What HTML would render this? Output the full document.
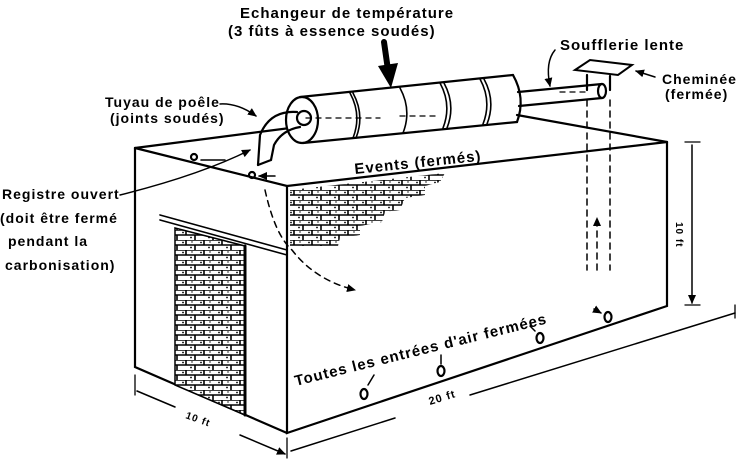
<!DOCTYPE html>
<html><head><meta charset="utf-8"><style>
html,body{margin:0;padding:0;background:#fff;width:751px;height:460px;overflow:hidden}
text{font-family:"Liberation Sans",sans-serif;fill:#000;font-weight:bold;letter-spacing:1px}
</style></head><body>
<svg width="751" height="460" viewBox="0 0 751 460" xmlns="http://www.w3.org/2000/svg">
<defs>
<pattern id="brick" width="18" height="10" patternUnits="userSpaceOnUse">
<rect width="18" height="10" fill="#fff"/>
<path d="M0 0H18M0 5H18M6 0V5M15 5V10" stroke="#000" stroke-width="1.6"/>
<circle cx="3" cy="2.5" r="0.9"/><circle cx="11" cy="7.5" r="0.9"/><circle cx="12" cy="2" r="0.7"/>
</pattern>
<marker id="ar" markerUnits="userSpaceOnUse" markerWidth="10" markerHeight="10" refX="8" refY="4" orient="auto"><path d="M0 0L9 4L0 8z"/></marker>
</defs>
<g stroke="#000" stroke-width="2.2" fill="none" stroke-linecap="round">
<path d="M135 148L287 186L667 142"/>
<path d="M135 148L290 128"/>
<path d="M517 115L667 142"/>
<path d="M287 186V433L667 306V142"/>
<path d="M135 148V367L287 433"/>
<path d="M160 215L287 250M160 220L287 255" stroke-width="1.6"/>
<polygon points="175,228 245,246 245,415 175,385" fill="url(#brick)" stroke-width="1.5"/>
<line x1="245" y1="246" x2="245" y2="415" stroke-width="3"/>
<polygon points="290,190 445,173 440,182 425,186 425,195 405,198 400,210 385,212 382,222 360,226 360,235 340,238 338,246 290,246" fill="url(#brick)" stroke="none"/>
<path d="M300 97L513 75M303 143L517 122"/>
<ellipse cx="302" cy="120" rx="16" ry="23" fill="#fff"/>
<ellipse cx="304" cy="118" rx="7" ry="7"/>
<path d="M513 75Q526 98 517 122"/>
<path d="M350 93q12 22 3 45M353 93q12 22 3 45M400 88q12 22 3 45M440 83q12 22 3 45M444 83q12 22 3 45M480 79q12 22 3 45M484 79q12 22 3 45" stroke-width="1.6"/>
<path d="M518 92L602 84M519 106L602 98"/>
<ellipse cx="602" cy="91" rx="4" ry="7" fill="#fff"/>
<path d="M297 112Q270 110 260 135L258 165M300 127Q282 130 274 145L271 160"/>
<path d="M258 165L271 160"/>
<polygon points="575,70 590,60 632,65 618,75" stroke-width="2"/>
<path d="M587 75V90M610 76V90"/>
<path d="M587 100V270M610 100V270" stroke-dasharray="6,5" stroke-width="1.5"/>
<path d="M597 270V218" stroke-dasharray="6,5" stroke-width="1.5" marker-end="url(#ar)"/>
<path d="M306 118H380M400 116H440M560 92H590" stroke-dasharray="5,5" stroke-width="1.3"/>
<path d="M265 190Q275 235 292 250Q315 280 355 290" stroke-dasharray="6,5" stroke-width="1.5" marker-end="url(#ar)"/>
<circle cx="194" cy="157" r="3"/><circle cx="252" cy="175" r="3"/>
<path d="M225 160H201M275 176H259" stroke-width="1.5" marker-end="url(#ar)"/>
<ellipse cx="364" cy="394" rx="3.5" ry="5"/><ellipse cx="441" cy="371" rx="3.5" ry="5"/>
<ellipse cx="540" cy="338" rx="3.5" ry="5"/><ellipse cx="608" cy="317" rx="3.5" ry="5"/>
<path d="M374 375L368 385M441 355V364M530 326L535 331M594 309L601 313" stroke-width="1.5" marker-end="url(#ar)"/>
<path d="M685 142H700M685 305H700" stroke-width="1.3"/>
<path d="M692 230V145M692 230V303" stroke-width="1.5" marker-end="url(#ar)"/>
<path d="M135 375V395M287 438V458" stroke-width="1.3"/>
<path d="M175 407L137 391M240 435L285 454" stroke-width="1.5" marker-end="url(#ar)"/>
<path d="M395 418L291 451M470 395L735 313" stroke-width="1.5"/>
<path d="M735 305V318" stroke-width="1.3"/>
<path d="M384 42L388 70" stroke-width="6"/>
<path d="M220 104Q238 103 256 116" stroke-width="1.5" marker-end="url(#ar)"/>
<path d="M120 195Q200 175 250 150" stroke-width="1.5" marker-end="url(#ar)"/>
<path d="M555 50Q545 62 550 86" stroke-width="1.5" marker-end="url(#ar)"/>
<path d="M655 77L636 71" stroke-width="1.5" marker-end="url(#ar)"/>
</g>
<polygon points="378,66 398,63 391,88" fill="#000"/>
<text x="240" y="18" font-size="15">Echangeur de température</text>
<text x="228" y="36" font-size="15">(3 fûts à essence soudés)</text>
<text x="560" y="50" font-size="15">Soufflerie lente</text>
<text x="662" y="84" font-size="14">Cheminée</text>
<text x="665" y="99" font-size="14">(fermée)</text>
<text x="105" y="107" font-size="14">Tuyau de poêle</text>
<text x="110" y="123" font-size="14">(joints soudés)</text>
<text x="2" y="199" font-size="14">Registre ouvert</text>
<text x="0" y="223" font-size="14">(doit être fermé</text>
<text x="8" y="246" font-size="14">pendant la</text>
<text x="5" y="270" font-size="14">carbonisation)</text>
<text x="355" y="174" font-size="15" transform="rotate(-6 355 174)">Events (fermés)</text>
<text x="296" y="386" font-size="15" transform="rotate(-14 296 386)">Toutes les entrées d'air fermées</text>
<text x="430" y="405" font-size="11" transform="rotate(-17 430 405)">20 ft</text>
<text x="185" y="418" font-size="10" transform="rotate(20 185 418)">10 ft</text>
<text x="676" y="222" font-size="10" transform="rotate(90 676 222)">10 ft</text>
</svg>
</body></html>
